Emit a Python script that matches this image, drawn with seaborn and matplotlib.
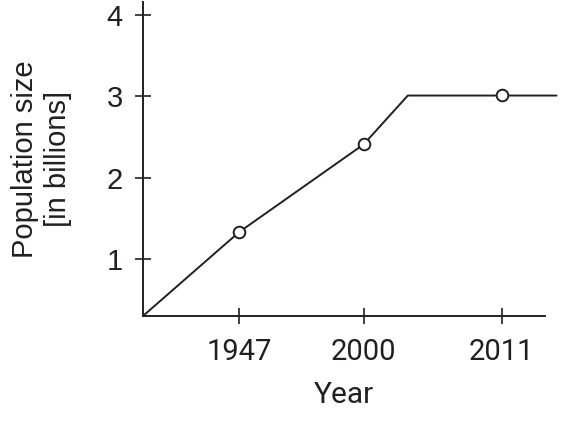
import numpy as np
import pandas as pd
import matplotlib
matplotlib.use("Agg")
import matplotlib.pyplot as plt
import seaborn as sns

# schematic x positions (axis is not to scale), population in billions
line_x = [0, 1, 2.30, 2.76, 4.31]
line_pop = [0.30, 1.33, 2.41, 3.01, 3.01]

mark_x = [1, 2.30, 3.74]
mark_pop = [1.33, 2.41, 3.02]
year_labels = ["1947", "2000", "2011"]

y_ticks = [1, 2, 3, 4]

ink = "#231f20"

sns.set_theme(style="white")
plt.rcParams["font.family"] = ["Liberation Sans", "DejaVu Sans"]

line_df = pd.DataFrame({"x": line_x, "pop": line_pop})
mark_df = pd.DataFrame({"x": mark_x, "pop": mark_pop})

fig = plt.figure(figsize=(5.87, 4.25), dpi=100)
ax = fig.add_axes([143 / 587, 1 - 316 / 425, (545 - 143) / 587, (316 - 2) / 425])

sns.lineplot(data=line_df, x="x", y="pop", ax=ax, color=ink, linewidth=1.4,
             clip_on=False, sort=False)
sns.scatterplot(data=mark_df, x="x", y="pop", ax=ax, s=70, color="white",
                edgecolor=ink, linewidth=1.4, zorder=5, clip_on=False)

ax.set_xlim(0, 4.19)
ax.set_ylim(0.30, 4.16)

ax.set_xticks(mark_x)
ax.set_xticklabels(year_labels, fontsize=21, family=["Roboto", "DejaVu Sans"])
ax.set_yticks(y_ticks)
ax.set_yticklabels([str(v) for v in y_ticks], fontsize=21)

ax.tick_params(axis="both", direction="inout", length=11, width=1.2, color=ink,
               labelcolor=ink, bottom=True, left=True)
ax.tick_params(axis="x", pad=10)
ax.tick_params(axis="y", pad=9)

for side in ["top", "right"]:
    ax.spines[side].set_visible(False)
for side in ["left", "bottom"]:
    ax.spines[side].set_color(ink)
    ax.spines[side].set_linewidth(1.4)

ax.set_xlabel("Year", fontsize=21.5, color=ink, family=["Roboto", "DejaVu Sans"],
              labelpad=11)
ax.set_ylabel("Population size\n[in billions]", fontsize=21, color=ink,
              linespacing=1.2)
ax.yaxis.set_label_coords(-0.177, 0.5)

fig.savefig("out.png", dpi=100)
